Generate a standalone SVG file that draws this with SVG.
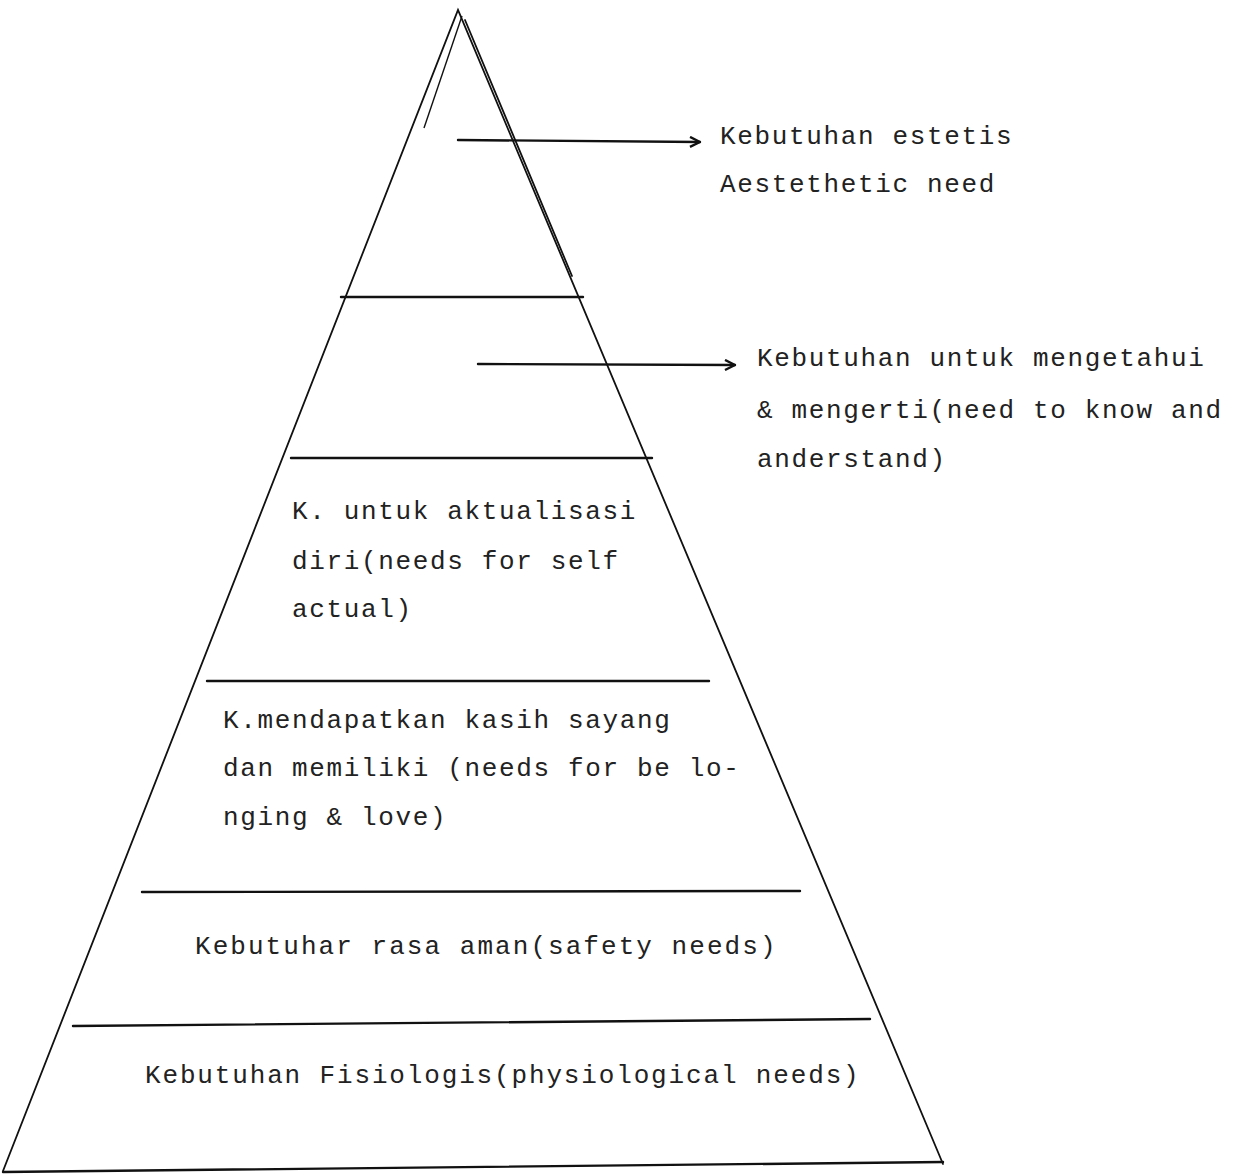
<svg xmlns="http://www.w3.org/2000/svg" width="1237" height="1175" viewBox="0 0 1237 1175">
<style>
.ln{stroke:#111;stroke-width:2.4;fill:none;stroke-linecap:round}
.sd{stroke:#111;stroke-width:1.8;fill:none;stroke-linecap:round;stroke-linejoin:miter}
.th{stroke:#111;stroke-width:1.4;fill:none}
.t{font-family:"Liberation Mono","Courier New",monospace;font-size:26px;letter-spacing:1.65px;fill:#222}
</style>
<defs>
<marker id="ah" viewBox="0 0 12 12" refX="11" refY="6" markerWidth="12" markerHeight="12" markerUnits="userSpaceOnUse" orient="auto">
<path d="M1,1 L11,6 L1,11" fill="none" stroke="#111" stroke-width="2.4"/>
</marker>
</defs>
<g id="pyramid">
<path class="sd" d="M943,1164 L458,10 L3,1171"/>
<path class="th" d="M462,16 L424,128"/>
<path class="sd" d="M465,20 L572,276"/>
<path class="ln" d="M3,1172 L943,1162"/>
</g>
<g id="levels">
<line class="ln" x1="341" y1="297" x2="583" y2="297"/>
<line class="ln" x1="291" y1="458" x2="652" y2="458"/>
<line class="ln" x1="207" y1="681" x2="709" y2="681"/>
<line class="ln" x1="142" y1="892" x2="800" y2="891"/>
<line class="ln" x1="73" y1="1026" x2="870" y2="1019"/>
</g>
<g id="connectors">
<line class="ln" x1="458" y1="140" x2="700" y2="142" marker-end="url(#ah)"/>
<line class="ln" x1="478" y1="364" x2="735" y2="365" marker-end="url(#ah)"/>
</g>
<g id="node-aesthetic">
<text class="t" x="720" y="144">Kebutuhan estetis</text>
<text class="t" x="720" y="192">Aestethetic need</text>
</g>
<g id="node-know">
<text class="t" x="757" y="366">Kebutuhan untuk mengetahui</text>
<text class="t" x="757" y="418">&amp; mengerti(need to know and</text>
<text class="t" x="757" y="467">anderstand)</text>
</g>
<g id="node-self">
<text class="t" x="292" y="519">K. untuk aktualisasi</text>
<text class="t" x="292" y="569">diri(needs for self</text>
<text class="t" x="292" y="617">actual)</text>
</g>
<g id="node-love">
<text class="t" x="223" y="728">K.mendapatkan kasih sayang</text>
<text class="t" x="223" y="776">dan memiliki (needs for be lo-</text>
<text class="t" x="223" y="825">nging &amp; love)</text>
</g>
<g id="node-safety">
<text class="t" x="195" y="954" style="letter-spacing:2.05px">Kebutuhar rasa aman(safety needs)</text>
</g>
<g id="node-physio">
<text class="t" x="145" y="1083" style="letter-spacing:1.85px">Kebutuhan Fisiologis(physiological needs)</text>
</g>
</svg>
